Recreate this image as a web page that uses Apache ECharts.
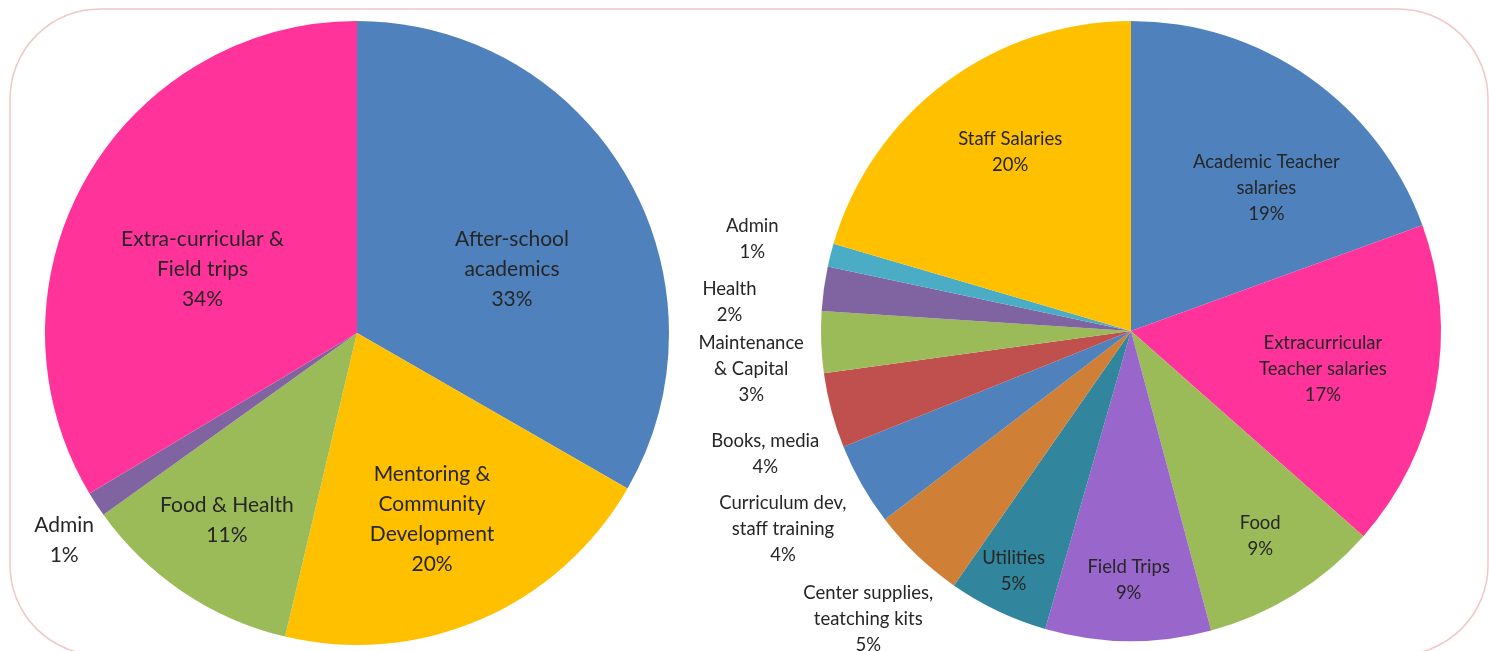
<!DOCTYPE html>
<html>
<head>
<meta charset="utf-8">
<script src="https://cdn.jsdelivr.net/npm/echarts@6/dist/echarts.min.js"></script>
<style>
  html, body { margin: 0; padding: 0; background: #fff; }
  #chart { width: 1489px; height: 651px; }
</style>
</head>
<body>
<div id="chart"></div>
<script>
// left pie: program spending
var leftNames = ['After-school\nacademics', 'Mentoring &\nCommunity\nDevelopment', 'Food & Health', 'Admin', 'Extra-curricular &\nField trips'];
var leftValues = [33.3, 20.4, 11.4, 1.3, 33.6];
var leftColors = ['#4F81BD', '#FFC000', '#9BBB59', '#8064A2', '#FF3399'];

// right pie: cost breakdown
var rightNames = ['Academic Teacher\nsalaries', 'Extracurricular\nTeacher salaries', 'Food', 'Field Trips', 'Utilities',
  'Center supplies,\nteatching kits', 'Curriculum dev,\nstaff training', 'Books, media', 'Maintenance\n& Capital',
  'Health', 'Admin', 'Staff Salaries'];
var rightValues = [19.4, 17.0, 9.3, 8.6, 5.2, 4.9, 4.3, 3.9, 3.2, 2.3, 1.2, 20.4];
var rightColors = ['#4F81BD', '#FF3399', '#9BBB59', '#9966CC', '#31859C', '#D07F37', '#4F81BD', '#C0504D',
  '#9BBB59', '#8064A2', '#4BACC6', '#FFC000'];

// label placement: [fraction of radius, angle shift in degrees, extra dy px]
var leftLabelPos = [[0.54, 7, 2], [0.645, 1.5, 0], [0.73, 1, 0], [1.15, -2, 0], [0.54, -6, 3]];
var rightLabelPos = [[0.64, 8, 2], [0.63, 0, 2], [0.77, -1, 4], [0.8, 0, 1], [0.85, 1, 4], [1.25, -1, 3],
  [1.28, 1, 7], [1.24, -3, 5], [1.23, -3, 4], [1.3, -3, 5], [1.26, 0, 4], [0.7, 3, 1]];

function midAngles(values) {
  var total = values.reduce(function (a, b) { return a + b; }, 0);
  var cum = 0;
  return values.map(function (v) {
    var a = (cum + v / 2) / total * 360;
    cum += v;
    return a;
  });
}

function makePie(names, values, colors, center, radius, labelPos, fontSize, lineHeight) {
  var total = values.reduce(function (a, b) { return a + b; }, 0);
  var mids = midAngles(values);
  return {
    type: 'pie',
    center: center,
    radius: radius,
    startAngle: 90,
    clockwise: true,
    silent: true,
    data: names.map(function (n, i) {
      return { name: n, value: values[i], itemStyle: { color: colors[i] } };
    }),
    label: {
      show: true,
      position: 'inside',
      color: '#262626',
      fontFamily: 'Lato, "Noto Sans", sans-serif',
      fontSize: fontSize,
      lineHeight: lineHeight,
      align: 'center',
      formatter: function (p) {
        return p.name + '\n' + Math.round(p.value / total * 100) + '%';
      }
    },
    labelLine: { show: false },
    labelLayout: function (p) {
      var i = p.dataIndex;
      var a = (mids[i] + labelPos[i][1]) * Math.PI / 180;
      var k = labelPos[i][0];
      return {
        x: center[0] + k * radius * Math.sin(a),
        y: center[1] - k * radius * Math.cos(a) + labelPos[i][2],
        align: 'center',
        verticalAlign: 'middle'
      };
    }
  };
}

var myChart = echarts.init(document.getElementById('chart'));
var option = {
  backgroundColor: '#fff',
  animation: false,
  graphic: [{
    type: 'rect',
    shape: { x: 10, y: 9, width: 1478, height: 646, r: 90 },
    style: { fill: 'none', stroke: '#EFC8C8', lineWidth: 1.5 },
    silent: true,
    z: -1
  }],
  series: [
    makePie(leftNames, leftValues, leftColors, [357, 333], 312, leftLabelPos, 21, 30),
    makePie(rightNames, rightValues, rightColors, [1131, 331], 310, rightLabelPos, 18.5, 26)
  ]
};
myChart.setOption(option);
</script>
</body>
</html>
